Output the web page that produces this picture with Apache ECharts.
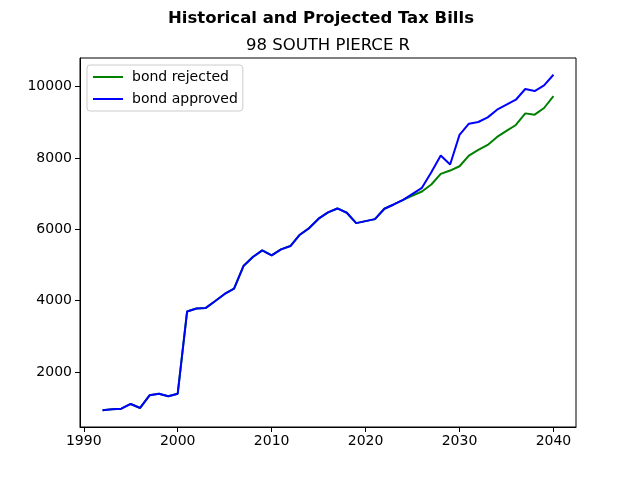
<!DOCTYPE html>
<html>
<head>
<meta charset="utf-8">
<script src="https://cdn.jsdelivr.net/npm/echarts@6/dist/echarts.min.js"></script>
<style>
  html, body { margin: 0; padding: 0; background: #fff; }
  #chart { width: 640px; height: 480px; }
</style>
</head>
<body>
<div id="chart"></div>
<script>
const years = [1992, 1993, 1994, 1995, 1996, 1997, 1998, 1999, 2000, 2001,
    2002, 2003, 2004, 2005, 2006, 2007, 2008, 2009, 2010, 2011,
    2012, 2013, 2014, 2015, 2016, 2017, 2018, 2019, 2020, 2021,
    2022, 2023, 2024, 2025, 2026, 2027, 2028, 2029, 2030, 2031,
    2032, 2033, 2034, 2035, 2036, 2037, 2038, 2039, 2040];

// shared history up to 2024, then the two projections
const history = [929, 957, 974, 1105, 993, 1348, 1393, 1320, 1393, 3698,
    3782, 3799, 3994, 4190, 4341, 4973, 5225, 5413, 5273, 5440,
    5533, 5851, 6037, 6300, 6475, 6587, 6467, 6176, 6232, 6288,
    6579, 6699, 6830];
const rejected = [6951, 7063, 7259, 7558, 7650, 7771, 8070, 8229, 8369, 8592,
    8760, 8928, 9253, 9217, 9404, 9739];
const approved = [6998, 7166, 7603, 8070, 7818, 8649, 8965, 9012, 9141, 9357,
    9497, 9636, 9936, 9880, 10036, 10336];

const xTicks = [1990, 2000, 2010, 2020, 2030, 2040];
const yTicks = [2000, 4000, 6000, 8000, 10000];

const rejectedVals = history.concat(rejected);
const approvedVals = history.concat(approved);
const toPairs = (vals) => vals.map((v, i) => [years[i], v]);

const chart = echarts.init(document.getElementById('chart'));
const font = 'DejaVu Sans';

chart.setOption({
    animation: false,
    textStyle: { fontFamily: font },
    title: [{
        text: 'Historical and Projected Tax Bills',
        left: 316, top: 5, textAlign: 'center',
        textStyle: { fontFamily: font, fontSize: 16.5, fontWeight: 'bold', color: '#000' }
    }, {
        text: '98 SOUTH PIERCE R',
        left: 323, top: 32, textAlign: 'center',
        textStyle: { fontFamily: font, fontSize: 16.5, fontWeight: 'normal', color: '#000' }
    }],
    legend: {
        orient: 'vertical',
        left: 87, top: 65,
        padding: [5, 5, 5, 6],
        itemGap: 8,
        itemWidth: 30, itemHeight: 2,
        icon: 'rect',
        borderColor: '#cccccc', borderWidth: 1, borderRadius: 3,
        backgroundColor: 'rgba(255,255,255,0.8)',
        textStyle: { fontFamily: font, fontSize: 14, color: '#000', padding: [0, 0, 0, 4] },
        data: ['bond rejected', 'bond approved']
    },
    grid: {
        left: 80, right: 64, top: 58, bottom: 53,
        show: true, borderColor: '#000', borderWidth: 1, backgroundColor: 'transparent'
    },
    xAxis: {
        type: 'value',
        min: 1989.6, max: 2042.4,
        axisLine: { show: true, lineStyle: { color: '#000' } },
        axisTick: { show: true, length: 5, lineStyle: { color: '#000' }, customValues: xTicks },
        axisLabel: {
            color: '#000', fontSize: 14, fontFamily: font, margin: 7, customValues: xTicks,
            formatter: (v) => String(v)
        },
        splitLine: { show: false }
    },
    yAxis: {
        type: 'value',
        min: 459, max: 10806,
        axisLine: { show: true, lineStyle: { color: '#000' } },
        axisTick: { show: true, length: 5, lineStyle: { color: '#000' }, customValues: yTicks },
        axisLabel: {
            color: '#000', fontSize: 14, fontFamily: font, margin: 8, customValues: yTicks,
            formatter: (v) => String(v)
        },
        splitLine: { show: false }
    },
    series: [{
        name: 'bond rejected',
        type: 'line',
        data: toPairs(rejectedVals),
        showSymbol: false,
        color: '#008000',
        lineStyle: { width: 2, color: '#008000' }
    }, {
        name: 'bond approved',
        type: 'line',
        data: toPairs(approvedVals),
        showSymbol: false,
        color: '#0000ff',
        lineStyle: { width: 2, color: '#0000ff' }
    }]
});
</script>
</body>
</html>
